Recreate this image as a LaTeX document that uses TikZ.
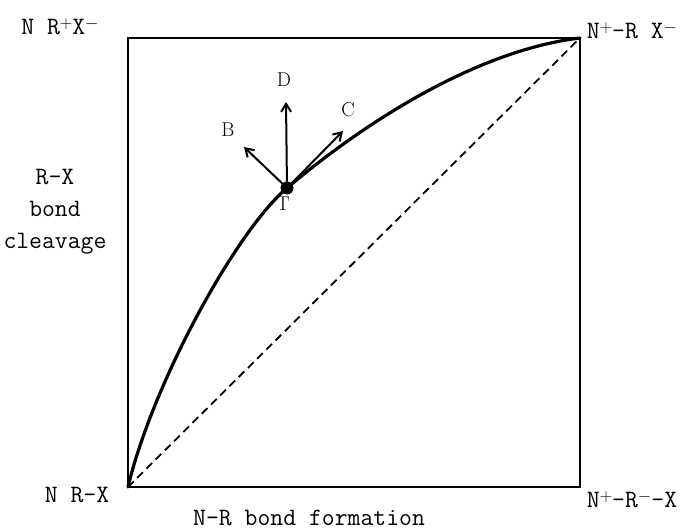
\documentclass[tikz,border=0pt]{standalone}
\usetikzlibrary{arrows.meta}
\newcommand\upsc[1]{\raisebox{0.55ex}{\fontsize{19}{19}\selectfont\rmfamily$#1$}}
\begin{document}
\begin{tikzpicture}[x=1pt,y=-1pt,
  lbl/.style={font=\fontsize{25}{29}\selectfont\ttfamily, inner sep=0pt},
  let/.style={font=\fontsize{20}{22}\selectfont, inner sep=0pt},
  frame/.style={line width=2.6pt},
  path/.style={line width=3.2pt, line cap=round, line join=round},
  vec/.style={line width=2pt, -{Straight Barb[length=8pt,width=10pt,line width=2pt]}},
  diag/.style={line width=1.8pt, dash pattern=on 8pt off 5pt}]
\useasboundingbox (0,0) rectangle (689,530);
% corners
\coordinate (bl) at (128,487);
\coordinate (tl) at (128,38);
\coordinate (tr) at (580,38);
\coordinate (br) at (580,487);
\draw[frame] (bl) -- (tl) -- (tr) -- (br) -- cycle;
\draw[diag] (bl) -- (tr);
% transition state
\node[circle, fill=black, inner sep=0pt, minimum size=13pt] (T) at (287,188) {};
\draw[path] (bl) .. controls (153,382) and (237,230) .. (T.center)
                 .. controls (370,118) and (480,50) .. (tr);
\coordinate (Dtip) at (286,102);
\coordinate (Btip) at (244,147);
\coordinate (Ctip) at (343,131);
\draw[vec] (T.center) -- (Dtip);
\draw[vec] (T.center) -- (Btip);
\draw[vec] (T.center) -- (Ctip);
\node[let] (Dl) at (284,80) {D};
\node[let] (Bl) at (228,130) {B};
\node[let] (Cl) at (348,110) {C};
\node[let] (Tl) at (283,204) {T};
% labels
\node[lbl] (nrx1) at (60,27) {N R\upsc{+}X\upsc{-}};
\node[lbl] (nrx2) at (632,31) {N\upsc{+}-R X\upsc{-}};
\node[lbl] (nrx3) at (77,495) {N R-X};
\node[lbl] (nrx4) at (632,500) {N\upsc{+}-R\upsc{-}-X};
\node[lbl, align=center] (rx) at (55,212) {R-X\\[3pt]bond\\[3pt]cleavage};
\node[lbl] (nr) at (309,518) {N-R bond formation};
\end{tikzpicture}
\end{document}
